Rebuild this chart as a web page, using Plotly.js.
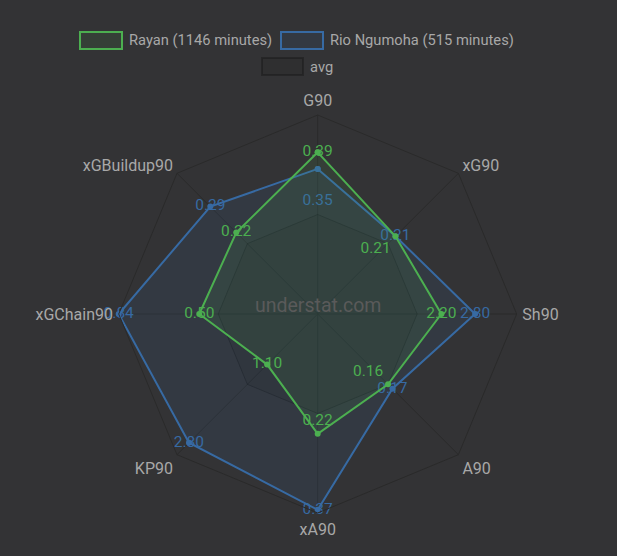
<!DOCTYPE html>
<html>
<head>
<meta charset="utf-8">
<script src="https://cdn.plot.ly/plotly-3.0.1.min.js"></script>
<style>
html,body{margin:0;padding:0;background:#333335;}
#chart{width:617px;height:556px;}
</style>
</head>
<body>
<div id="chart"></div>
<script>
// Axes (clockwise from top)
var categories = ["G90", "xG90", "Sh90", "A90", "xA90", "KP90", "xGChain90", "xGBuildup90"];
// League average per axis (drawn at half radius)
var avgValues = [0.24, 0.19, 1.77, 0.16, 0.186, 1.53, 0.42, 0.19];
// Player values (per 90)
var rayanValues = [0.39, 0.21, 2.20, 0.16, 0.224, 1.10, 0.50, 0.22];
var rioValues   = [0.35, 0.21, 2.80, 0.17, 0.366, 2.80, 0.84, 0.29];
var rayanName = "Rayan (1146 minutes)";
var rioName = "Rio Ngumoha (515 minutes)";
var avgName = "avg";
var rayanTextPos = ["middle center", "bottom left", "middle center", "top left", "top center", "middle center", "middle center", "middle center"];
var rioTextPos = ["bottom center", "middle center", "middle center", "middle center", "middle center", "middle center", "middle center", "middle center"];

function scaled(vals) {
  return vals.map(function (v, i) { return Math.min(1, 0.5 * v / avgValues[i]); });
}
function closeArr(a) { return a.concat([a[0]]); }
function labels(vals, pos) {
  return vals.map(function (v, i) {
    var t = v.toFixed(2);
    if (pos[i] === "bottom center") return "<br>" + t;
    return t;
  }).concat([""]);
}

var green = "#4caf50";
var blue = "#376aa3";
var textGray = "#a8a8a8";

var traces = [
  {
    type: "scatterpolar",
    name: avgName,
    r: closeArr(avgValues.map(function () { return 0.5; })),
    theta: closeArr(categories),
    mode: "lines",
    fill: "toself",
    fillcolor: "rgba(0,0,0,0.08)",
    line: {color: "rgba(0,0,0,0.25)", width: 1},
    hoverinfo: "skip",
    showlegend: false
  },
  {
    type: "scatterpolar",
    name: rioName,
    r: closeArr(scaled(rioValues)),
    theta: closeArr(categories),
    mode: "lines+markers+text",
    text: labels(rioValues, rioTextPos),
    textposition: closeArr(rioTextPos),
    textfont: {color: blue, size: 15.5, family: "Roboto, sans-serif"},
    fill: "toself",
    fillcolor: "rgba(55,106,163,0.12)",
    line: {color: blue, width: 2},
    marker: {color: blue, size: 6},
    showlegend: false
  },
  {
    type: "scatterpolar",
    name: rayanName,
    r: closeArr(scaled(rayanValues)),
    theta: closeArr(categories),
    mode: "lines+markers+text",
    text: labels(rayanValues, rayanTextPos),
    textposition: closeArr(rayanTextPos),
    textfont: {color: green, size: 15.5, family: "Roboto, sans-serif"},
    fill: "toself",
    fillcolor: "rgba(76,175,80,0.10)",
    line: {color: green, width: 2},
    marker: {color: green, size: 6},
    showlegend: false
  }
];

// Legend drawn in Chart.js style: outlined boxes with labels
var W = 617, H = 556;
function px(x) { return x / W; }
function py(y) { return 1 - y / H; }
var legendItems = [
  {name: rayanName, box: [80, 32, 122, 49], border: green, fill: "rgba(76,175,80,0.10)"},
  {name: rioName, box: [281, 32, 323, 49], border: blue, fill: "rgba(55,106,163,0.12)"},
  {name: avgName, box: [262, 58, 303, 75], border: "rgba(0,0,0,0.25)", fill: "rgba(0,0,0,0.08)"}
];
var shapes = legendItems.map(function (it) {
  return {
    type: "rect", xref: "paper", yref: "paper",
    x0: px(it.box[0]), x1: px(it.box[2]), y0: py(it.box[1]), y1: py(it.box[3]),
    line: {color: it.border, width: 2}, fillcolor: it.fill
  };
});
var annotations = legendItems.map(function (it) {
  return {
    text: it.name, xref: "paper", yref: "paper",
    x: px(it.box[2] + 5), y: py((it.box[1] + it.box[3]) / 2),
    xanchor: "left", yanchor: "middle", showarrow: false,
    font: {size: 14.7, color: textGray, family: "Roboto, sans-serif"}
  };
});
annotations.push({
  text: "understat.com",
  xref: "paper", yref: "paper",
  x: px(318), y: py(305),
  xanchor: "center", yanchor: "middle",
  showarrow: false,
  font: {size: 19.5, color: "#5a5a5a", family: "Roboto, sans-serif"}
});

var layout = {
  width: W,
  height: H,
  paper_bgcolor: "#333335",
  plot_bgcolor: "#333335",
  margin: {l: 0, r: 0, t: 0, b: 0},
  font: {family: "Roboto, sans-serif", color: textGray},
  showlegend: false,
  polar: {
    domain: {x: [0.1924, 0.8374], y: [0.0773, 0.7932]},
    bgcolor: "rgba(0,0,0,0)",
    gridshape: "linear",
    radialaxis: {
      range: [0, 1],
      visible: true,
      showticklabels: false,
      ticks: "",
      showline: false,
      showgrid: false
    },
    angularaxis: {
      rotation: 90,
      direction: "clockwise",
      tickfont: {size: 16, color: textGray},
      ticks: "outside",
      ticklen: 2,
      tickcolor: "rgba(0,0,0,0)",
      showline: true,
      linecolor: "#2a2a2a",
      linewidth: 1,
      showgrid: true,
      gridcolor: "#2a2a2a",
      gridwidth: 1
    }
  },
  shapes: shapes,
  annotations: annotations
};

Plotly.newPlot("chart", traces, layout, {displayModeBar: false, staticPlot: true});
</script>
</body>
</html>
